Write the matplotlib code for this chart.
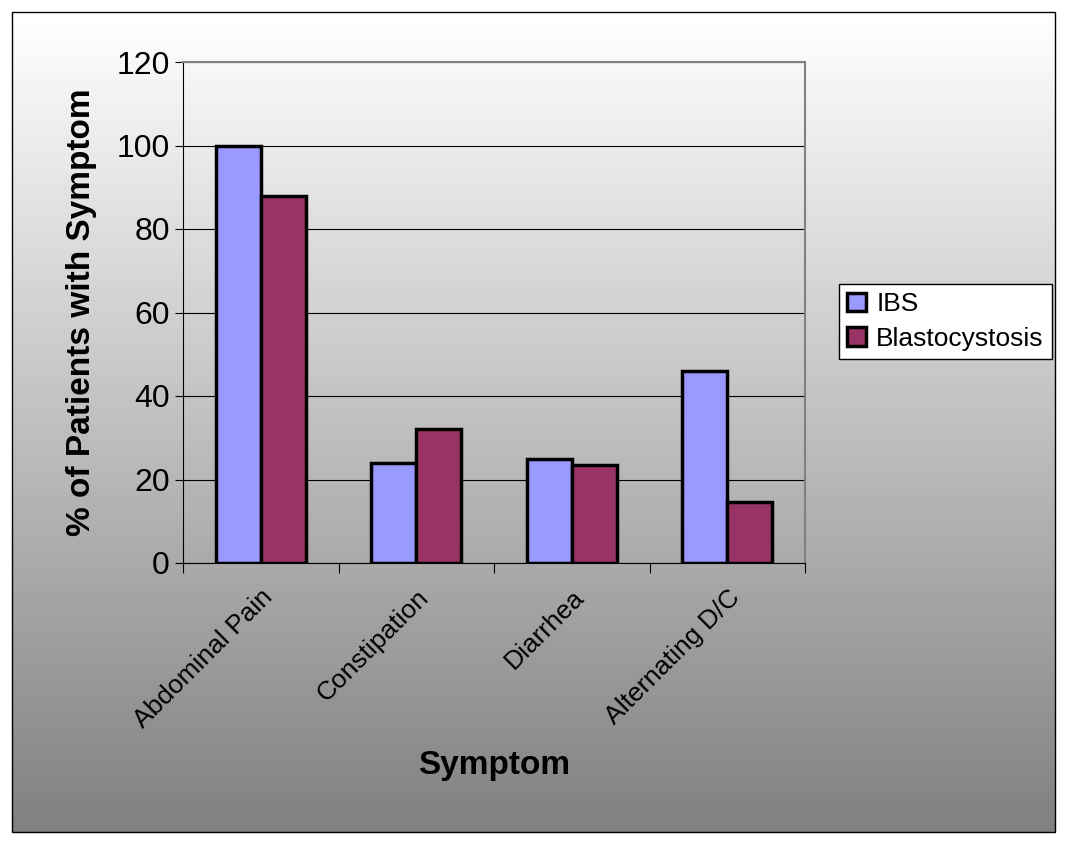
import matplotlib
matplotlib.use("Agg")
import matplotlib.pyplot as plt
import numpy as np
from matplotlib.patches import Rectangle

categories = ["Abdominal Pain", "Constipation", "Diarrhea", "Alternating D/C"]
ibs = [100, 24, 25, 46]
blasto = [88, 32, 23.5, 14.5]

plt.rcParams['font.family'] = ['Liberation Sans', 'DejaVu Sans']
fig = plt.figure(figsize=(10.72, 8.57), dpi=100)

# gradient background inside border
x0, y0, w0, h0 = 12/1072, 1-832/857, (1055-12)/1072, (832-12)/857
bg = fig.add_axes([0, 0, 1, 1], zorder=-10)
grad = np.linspace(1.0, 0.5, 256).reshape(-1, 1)
bg.imshow(grad, cmap='gray', vmin=0, vmax=1, aspect='auto', extent=[x0, x0+w0, y0, y0+h0])
bg.set_xlim(0, 1); bg.set_ylim(0, 1); bg.axis('off')
bg.add_patch(Rectangle((x0, y0), w0, h0, fill=False, edgecolor='black', lw=1))

ax = fig.add_axes([183/1072, 1-563/857, (805-183)/1072, (563-62)/857])
ax.patch.set_alpha(0)
x = np.arange(len(categories))
w = 0.29
ax.bar(x - w/2, ibs, w, color='#9999FF', edgecolor='black', lw=2.5, label='IBS', zorder=3)
ax.bar(x + w/2, blasto, w, color='#993366', edgecolor='black', lw=2.5, label='Blastocystosis', zorder=3)
ax.set_xlim(-0.5, len(categories) - 0.5)
ax.set_ylim(0, 120)
ax.set_yticks(range(0, 121, 20))
ax.yaxis.grid(True, color='black', lw=0.8, zorder=0)
ax.tick_params(axis='y', labelsize=23, length=6, direction='out')
ax.set_xticks(np.arange(-0.5, len(categories)), minor=False)
ax.set_xticklabels([])
ax.tick_params(axis='x', length=7, direction='out')
ax.set_xticks(x, minor=True)
ax.set_xticklabels(categories, minor=True, rotation=45, ha='right', rotation_mode='anchor', fontsize=19)
ax.tick_params(axis='x', which='minor', length=0, pad=16)
for s in ['top', 'right']:
    ax.spines[s].set_color('#808080')
    ax.spines[s].set_linewidth(1.5)
for s in ['left', 'bottom']:
    ax.spines[s].set_color('black')
ax.set_ylabel('% of Patients with Symptom', fontsize=24, fontweight='bold', labelpad=14)
ax.set_xlabel('Symptom', fontsize=24, fontweight='bold', labelpad=12)
leg = ax.legend(loc='upper left', bbox_to_anchor=(826/1072, 1-271/857), bbox_transform=fig.transFigure,
                fontsize=19, frameon=True, fancybox=False, edgecolor='black', framealpha=1,
                handlelength=0.7, handleheight=0.7, borderpad=0.3, labelspacing=0.4, handletextpad=0.4)
leg.get_frame().set_facecolor('white')
fig.savefig('out.png', dpi=100)
